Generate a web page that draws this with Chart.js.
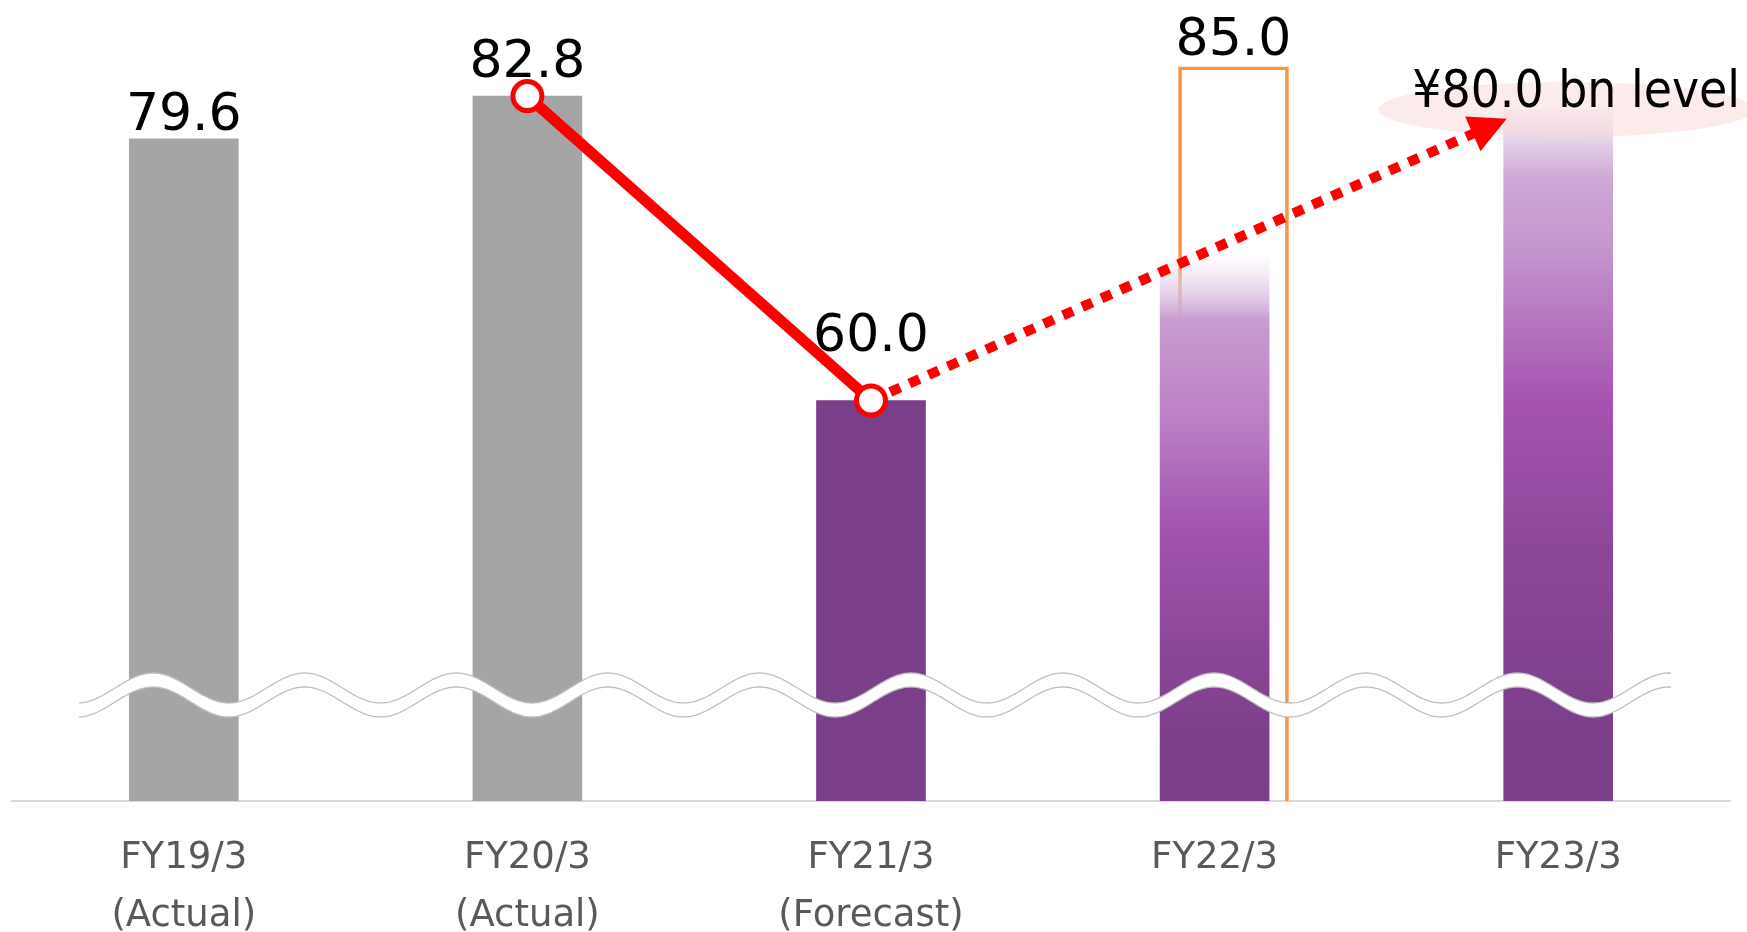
<!DOCTYPE html>
<html>
<head>
<meta charset="utf-8">
<script src="https://cdn.jsdelivr.net/npm/chart.js@4.4.1/dist/chart.umd.min.js"></script>
<style>
  html, body { margin: 0; padding: 0; background: #fff; }
  #wrap { width: 1747px; height: 932px; position: relative; }
</style>
</head>
<body>
<div id="wrap"><canvas id="profitChart"></canvas></div>
<script>
// categories (x axis, two lines where the original has them)
const categories = [
  ['FY19/3', '(Actual)'],
  ['FY20/3', '(Actual)'],
  ['FY21/3', '(Forecast)'],
  'FY22/3',
  'FY23/3'
];

// bar heights (¥ bn), axis is broken so it starts at 30
const barValues = [79.6, 82.8, 60.0, 71.0, 81.8];
// FY22/3 original plan, drawn as orange outline
const planPos = [3.055];
const planValues = [85.0];
// red trend line: FY20 -> FY21 solid, then dotted arrow towards FY23
const trendPos = [1, 2, 3.85];
const trendValues = [82.8, 60.0, 81.1];
// texts above the bars
const valueLabels = ['79.6', '82.8', '60.0', '85.0', '¥80.0 bn level'];
const targetLevel = 80.0;

const AXIS_MIN = 30;
const AXIS_MAX = 90;

const gradStops = {
  3: [
    [0.00, 'rgba(236,222,240,0)'],
    [0.05, 'rgba(228,208,234,0.6)'],
    [0.12, 'rgb(200,156,208)'],
    [0.30, 'rgb(188,128,198)'],
    [0.50, 'rgb(162,84,174)'],
    [0.72, 'rgb(140,71,152)'],
    [0.88, 'rgb(125,63,139)'],
    [1.00, 'rgb(123,63,138)']
  ],
  4: [
    [0.00, 'rgba(238,224,240,0.3)'],
    [0.04, 'rgb(230,214,234)'],
    [0.10, 'rgb(206,168,214)'],
    [0.20, 'rgb(196,150,206)'],
    [0.42, 'rgb(165,84,176)'],
    [0.62, 'rgb(142,72,154)'],
    [0.85, 'rgb(126,64,141)'],
    [1.00, 'rgb(123,63,138)']
  ]
};

function barColor(ctx) {
  const i = ctx.dataIndex;
  if (i < 2) return '#A5A5A5';
  if (i === 2) return '#7B3F8A';
  const chart = ctx.chart;
  if (!chart.chartArea || !chart.scales.y) return '#7B3F8A';
  const y = chart.scales.y;
  const top = y.getPixelForValue(barValues[i]);
  const bottom = y.getPixelForValue(AXIS_MIN);
  const g = chart.ctx.createLinearGradient(0, top, 0, bottom);
  gradStops[i].forEach(s => g.addColorStop(s[0], s[1]));
  return g;
}

// white wave band = axis break mark
const breakPlugin = {
  id: 'axisBreak',
  afterDatasetDraw(chart, args) {
    if (args.index !== 0) return;
    const {ctx, chartArea} = chart;
    const x0 = chartArea.left + 67;
    const x1 = chartArea.right - 59;
    const yc = chartArea.bottom - 113;
    const amp = 15, period = 151.6, phase = 153, gap = 14;
    const wave = (x) => yc - amp * Math.cos(2 * Math.PI * (x - phase) / period);
    ctx.save();
    ctx.beginPath();
    for (let x = x0; x <= x1; x += 1) ctx.lineTo(x, wave(x));
    for (let x = x1; x >= x0; x -= 1) ctx.lineTo(x, wave(x) + gap);
    ctx.closePath();
    ctx.fillStyle = '#fff';
    ctx.fill();
    ctx.strokeStyle = '#BFBFBF';
    ctx.lineWidth = 1.3;
    ctx.beginPath();
    for (let x = x0; x <= x1; x += 1) ctx.lineTo(x, wave(x));
    ctx.stroke();
    ctx.beginPath();
    for (let x = x0; x <= x1; x += 1) ctx.lineTo(x, wave(x) + gap);
    ctx.stroke();

    // pink halo behind the target text
    const bar = chart.getDatasetMeta(0).data[4];
    const ty = chart.scales.y.getPixelForValue(targetLevel);
    ctx.fillStyle = 'rgba(250,216,216,0.5)';
    ctx.beginPath();
    ctx.ellipse(bar.x + 8, ty - 24, 188, 27.5, 0, 0, Math.PI * 2);
    ctx.fill();
    ctx.restore();
  }
};

// arrow head + value labels
const labelLift = [9, 19, 50, 12];
const ARROW_LEN = 37, ARROW_HALF = 19;

function arrowEnd(chart) {
  const pts = chart.getDatasetMeta(2).data;
  const a = pts[pts.length - 2], b = pts[pts.length - 1];
  return {b: b, ang: Math.atan2(b.y - a.y, b.x - a.x)};
}

const annotatePlugin = {
  id: 'annotate',
  beforeDatasetDraw(chart, args) {
    if (args.index !== 2) return;
    // keep the dotted line from poking out past the arrow head
    const {ctx} = chart;
    const {b, ang} = arrowEnd(chart);
    ctx.save();
    ctx.translate(b.x, b.y);
    ctx.rotate(ang);
    ctx.beginPath();
    ctx.rect(-5000, -5000, 5000 - 28, 10000);
    ctx.rotate(-ang);
    ctx.translate(-b.x, -b.y);
    ctx.clip();
  },
  afterDatasetDraw(chart, args) {
    if (args.index !== 2) return;
    chart.ctx.restore();
  },
  afterDatasetsDraw(chart) {
    const {ctx} = chart;
    const bars = chart.getDatasetMeta(0).data;
    const plan = chart.getDatasetMeta(1).data[0];
    const {b, ang} = arrowEnd(chart);
    ctx.save();

    ctx.translate(b.x, b.y);
    ctx.rotate(ang);
    ctx.fillStyle = '#FF0000';
    ctx.beginPath();
    ctx.moveTo(0, 0);
    ctx.lineTo(-ARROW_LEN, -ARROW_HALF);
    ctx.lineTo(-ARROW_LEN, ARROW_HALF);
    ctx.closePath();
    ctx.fill();
    ctx.setTransform(1, 0, 0, 1, 0, 0);

    ctx.fillStyle = '#000';
    ctx.textAlign = 'center';
    ctx.textBaseline = 'alphabetic';
    ctx.font = '52px "DejaVu Sans"';
    for (let i = 0; i < 3; i++) {
      ctx.fillText(valueLabels[i], bars[i].x, bars[i].y - labelLift[i]);
    }
    ctx.fillText(valueLabels[3], plan.x, plan.y - labelLift[3]);

    const ty = chart.scales.y.getPixelForValue(targetLevel);
    ctx.font = '51px "DejaVu Sans Condensed", "DejaVu Sans"';
    ctx.fillText(valueLabels[4], bars[4].x + 18, ty - 27);
    ctx.restore();
  }
};

new Chart(document.getElementById('profitChart'), {
  type: 'bar',
  data: {
    labels: categories,
    datasets: [
      {
        label: 'Results',
        data: barValues,
        backgroundColor: barColor,
        barThickness: 109,
        grouped: false,
        order: 1
      },
      {
        label: 'Plan',
        data: planPos.map((x, i) => ({x: x, y: planValues[i]})),
        xAxisID: 'x2',
        backgroundColor: 'rgba(0,0,0,0)',
        borderColor: '#F79646',
        borderWidth: 3,
        borderSkipped: false,
        barThickness: 110,
        grouped: false,
        order: 2
      },
      {
        type: 'line',
        label: 'Trend',
        data: trendPos.map((x, i) => ({x: x, y: trendValues[i]})),
        xAxisID: 'x2',
        borderColor: '#FF0000',
        borderWidth: 11,
        borderCapStyle: 'butt',
        pointRadius: [14.5, 14.5, 0],
        pointBackgroundColor: '#FFFFFF',
        pointBorderColor: '#FF0000',
        pointBorderWidth: 5,
        tension: 0,
        clip: false,
        segment: {
          borderDash: c => c.p0DataIndex >= 1 ? [11, 10] : undefined,
          borderWidth: c => c.p0DataIndex >= 1 ? 10 : 11
        },
        order: 0
      }
    ]
  },
  options: {
    responsive: true,
    maintainAspectRatio: false,
    animation: false,
    layout: { autoPadding: false, padding: { left: 12, right: 17, top: 0, bottom: 0 } },
    plugins: {
      legend: { display: false },
      tooltip: { enabled: false }
    },
    scales: {
      x: {
        grid: { display: false, drawTicks: false },
        border: { display: true, color: '#D9D9D9', width: 2 },
        ticks: {
          color: '#595959',
          padding: 28,
          font: { family: '"DejaVu Sans"', size: 37, lineHeight: 1.57 }
        },
        afterFit: s => { s.height = 131; }
      },
      x2: {
        type: 'linear',
        display: false,
        offset: false,
        min: -0.5,
        max: 4.5
      },
      y: {
        display: false,
        min: AXIS_MIN,
        max: AXIS_MAX
      }
    }
  },
  plugins: [breakPlugin, annotatePlugin]
});
</script>
</body>
</html>
